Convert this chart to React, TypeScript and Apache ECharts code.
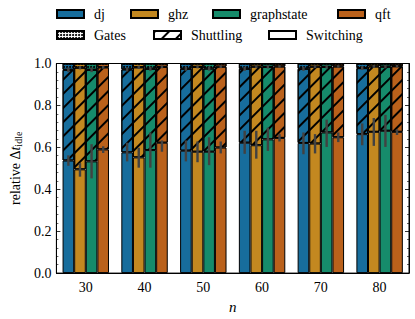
import { useEffect, useRef } from 'react';
import * as echarts from 'echarts';

const categories = ['30', '40', '50', '60', '70', '80'];
const algorithms = ['dj', 'ghz', 'graphstate', 'qft'];
const algoColors = ['#176d9c', '#c38820', '#168b6b', '#ba611b'];
const components = ['Gates', 'Shuttling', 'Switching'];

// Switching share (top of bottom segment)
const switchingDj = [0.537, 0.576, 0.584, 0.622, 0.621, 0.663];
const switchingGhz = [0.495, 0.552, 0.579, 0.610, 0.618, 0.674];
const switchingGraphstate = [0.533, 0.587, 0.579, 0.638, 0.671, 0.679];
const switchingQft = [0.590, 0.622, 0.599, 0.645, 0.648, 0.674];

// Switching error interval (low / high)
const switchLoDj = [0.512, 0.533, 0.533, 0.569, 0.567, 0.610];
const switchHiDj = [0.562, 0.622, 0.633, 0.679, 0.671, 0.714];
const switchLoGhz = [0.460, 0.503, 0.529, 0.546, 0.571, 0.607];
const switchHiGhz = [0.525, 0.598, 0.628, 0.679, 0.663, 0.740];
const switchLoGraphstate = [0.452, 0.503, 0.515, 0.583, 0.602, 0.602];
const switchHiGraphstate = [0.615, 0.671, 0.648, 0.694, 0.732, 0.755];
const switchLoQft = [0.573, 0.579, 0.571, 0.628, 0.625, 0.659];
const switchHiQft = [0.605, 0.633, 0.628, 0.663, 0.671, 0.686];

// Top of the shuttling segment (Switching + Shuttling)
const shuttleTopDj = [0.970, 0.972, 0.975, 0.975, 0.975, 0.978];
const shuttleTopGhz = [0.980, 0.982, 0.984, 0.985, 0.985, 0.986];
const shuttleTopGraphstate = [0.970, 0.975, 0.976, 0.984, 0.984, 0.985];
const shuttleTopQft = [0.982, 0.984, 0.985, 0.986, 0.986, 0.987];

// Half width of the shuttling error bar
const shuttleErrDj = [0.011, 0.010, 0.010, 0.010, 0.010, 0.009];
const shuttleErrGhz = [0.008, 0.008, 0.007, 0.007, 0.007, 0.007];
const shuttleErrGraphstate = [0.011, 0.010, 0.010, 0.008, 0.008, 0.008];
const shuttleErrQft = [0.007, 0.007, 0.007, 0.006, 0.006, 0.006];

const switching = [switchingDj, switchingGhz, switchingGraphstate, switchingQft];
const switchLo = [switchLoDj, switchLoGhz, switchLoGraphstate, switchLoQft];
const switchHi = [switchHiDj, switchHiGhz, switchHiGraphstate, switchHiQft];
const shuttleTop = [shuttleTopDj, shuttleTopGhz, shuttleTopGraphstate, shuttleTopQft];
const shuttleErr = [shuttleErrDj, shuttleErrGhz, shuttleErrGraphstate, shuttleErrQft];

const FONT = 'Liberation Serif';
const GROUP_FRACTION = 0.79;

const hatchDecal = {
  symbol: 'rect',
  symbolSize: 1,
  color: '#000',
  dashArrayX: [1, 0],
  dashArrayY: [1.3, 7.2],
  rotation: -Math.PI / 4,
};
const dotsDecal = {
  symbol: 'circle',
  symbolSize: 1,
  color: '#000',
  dashArrayX: [1.4, 0.6],
  dashArrayY: [1.4, 0.6],
  rotation: 0,
};

export default function App() {
  const ref = useRef<HTMLDivElement>(null);
  useEffect(() => {
    if (!ref.current) return;
    const chart = echarts.init(ref.current, null, { renderer: 'svg' });

    const series: any[] = [];
    algorithms.forEach((algo, k) => {
      const color = algoColors[k];
      const base = {
        type: 'bar',
        stack: algo,
        barGap: '0%',
        barCategoryGap: `${Math.round((1 - GROUP_FRACTION) * 100)}%`,
        xAxisIndex: 0,
        yAxisIndex: 0,
        emphasis: { disabled: true },
      };
      series.push({
        ...base,
        name: `${algo} Switching`,
        data: switching[k],
        itemStyle: { color, borderColor: '#000', borderWidth: 1 },
      });
      series.push({
        ...base,
        name: `${algo} Shuttling`,
        data: shuttleTop[k].map((t, i) => +(t - switching[k][i]).toFixed(4)),
        itemStyle: { color, borderColor: '#000', borderWidth: 1, decal: hatchDecal },
      });
      series.push({
        ...base,
        name: `${algo} Gates`,
        data: shuttleTop[k].map((t) => +(1 - t).toFixed(4)),
        itemStyle: { color, borderColor: '#000', borderWidth: 1, decal: dotsDecal },
      });
      const errData: number[][] = [];
      categories.forEach((_, i) => {
        errData.push([i, switchLo[k][i], switchHi[k][i]]);
        errData.push([i, shuttleTop[k][i] - shuttleErr[k][i], shuttleTop[k][i] + shuttleErr[k][i]]);
      });
      series.push({
        type: 'custom',
        name: `${algo} err`,
        xAxisIndex: 0,
        yAxisIndex: 0,
        z: 5,
        data: errData,
        encode: { x: 0, y: [1, 2] },
        renderItem: (params: any, api: any) => {
          const ci = api.value(0);
          const p1 = api.coord([ci, api.value(1)]);
          const p2 = api.coord([ci, api.value(2)]);
          const band = api.size([1, 0])[0];
          const bw = (band * GROUP_FRACTION) / algorithms.length;
          const x = p1[0] + (k - (algorithms.length - 1) / 2) * bw;
          return {
            type: 'line',
            shape: { x1: x, y1: p1[1], x2: x, y2: p2[1] },
            style: { stroke: '#424242', lineWidth: 2.4 },
          };
        },
      });
    });

    // legend-only series
    algorithms.forEach((algo, k) => {
      series.push({
        type: 'bar',
        name: algo,
        xAxisIndex: 1,
        yAxisIndex: 2,
        data: [],
        itemStyle: { color: algoColors[k], borderColor: '#000', borderWidth: 1 },
      });
    });
    const compDecals: any = { Gates: dotsDecal, Shuttling: hatchDecal, Switching: undefined };
    components.forEach((c) => {
      series.push({
        type: 'bar',
        name: c,
        xAxisIndex: 1,
        yAxisIndex: 2,
        data: [],
        itemStyle: { color: '#fff', borderColor: '#000', borderWidth: 1, decal: compDecals[c] },
      });
    });

    const legendPos: [string, number, number][] = [
      ['dj', 56, 7],
      ['ghz', 130, 7],
      ['graphstate', 212, 7],
      ['qft', 337, 7],
      ['Gates', 56, 28],
      ['Shuttling', 153, 28],
      ['Switching', 268, 28],
    ];

    const yCommon = {
      type: 'value',
      min: 0,
      max: 1,
      interval: 0.2,
      gridIndex: 0,
      splitLine: { show: false },
      axisLine: { show: true, lineStyle: { color: '#000', width: 1 } },
      axisTick: { show: true, inside: true, length: 4, lineStyle: { color: '#000', width: 0.8 } },
      minorTick: { show: true, splitNumber: 5, length: 2, lineStyle: { color: '#000', width: 0.6 } },
    };

    chart.setOption({
      animation: false,
      grid: { left: 45, right: 6, top: 63.5, bottom: 38, show: true, borderColor: '#000', borderWidth: 1, backgroundColor: 'transparent' },
      legend: legendPos.map(([name, x, y]) => ({
        data: [name],
        left: x,
        top: y,
        padding: 0,
        itemGap: 0,
        itemWidth: 27,
        itemHeight: 8,
        icon: 'rect',
        selectedMode: false,
        textStyle: { fontFamily: FONT, fontSize: 14, color: '#000', padding: [0, 0, 0, 5] },
      })),
      xAxis: [
        {
          type: 'category',
          data: categories,
          gridIndex: 0,
          axisLine: { show: true, lineStyle: { color: '#000', width: 1 } },
          axisTick: { show: false },
          axisLabel: { color: '#000', fontFamily: FONT, fontSize: 14, margin: 7 },
          name: 'n',
          nameLocation: 'middle',
          nameGap: 22,
          nameTextStyle: { color: '#000', fontFamily: FONT, fontSize: 15, fontStyle: 'italic' },
        },
        { type: 'category', data: ['x'], gridIndex: 0, show: false },
      ],
      yAxis: [
        {
          ...yCommon,
          position: 'left',
          axisLabel: { color: '#000', fontFamily: FONT, fontSize: 14, margin: 5, formatter: (v: number) => v.toFixed(1) },
          name: '{r|relative Δ}{t|t}{s|idle}',
          nameLocation: 'middle',
          nameGap: 28,
          nameTextStyle: {
            rich: {
              r: { fontFamily: FONT, fontSize: 14, color: '#000' },
              t: { fontFamily: FONT, fontSize: 14, color: '#000', fontStyle: 'italic' },
              s: { fontFamily: FONT, fontSize: 10, color: '#000', padding: [6, 0, 0, 0] },
            },
          },
        },
        { ...yCommon, position: 'right', axisLabel: { show: false } },
        { type: 'value', gridIndex: 0, show: false },
      ],
      series,
    });
    return () => chart.dispose();
  }, []);
  return <div ref={ref} style={{ width: 415, height: 319, position: 'absolute', left: 0, top: 0 }} />;
}
